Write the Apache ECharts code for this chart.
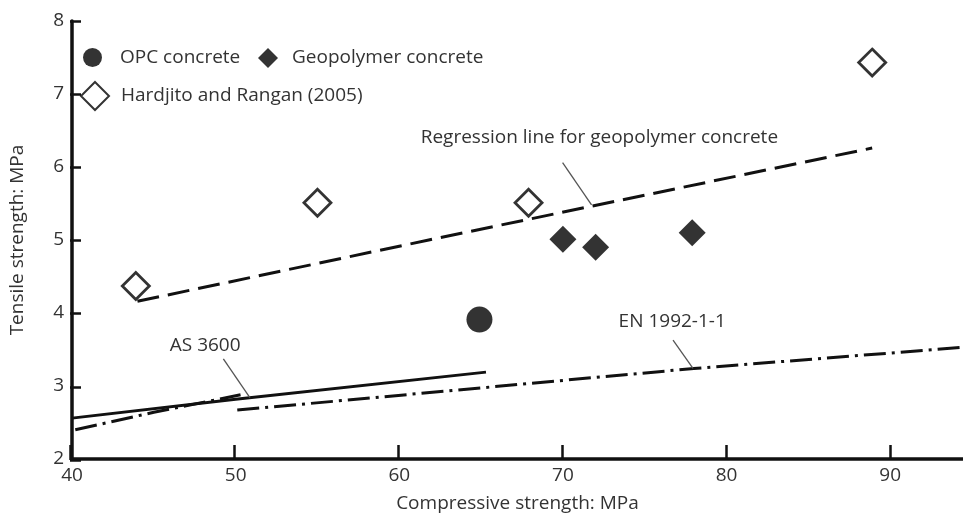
<!DOCTYPE html>
<html>
<head>
<meta charset="utf-8">
<script src="https://cdn.jsdelivr.net/npm/echarts@6/dist/echarts.min.js"></script>
<style>
html,body{margin:0;padding:0;background:#fff;}
#wrap{position:relative;width:963px;height:518px;}
#chart,#ticks{position:absolute;left:0;top:0;width:963px;height:518px;}
#ticks{pointer-events:none;z-index:2;}
#err{position:absolute;left:300px;top:420px;color:red;font:12px sans-serif;z-index:5;width:600px;}
</style>
</head>
<body>
<div id="wrap"><div id="chart"></div><div id="ticks"></div><div id="err"></div></div>
<script>
var xTickValues = [40, 50, 60, 70, 80, 90];
var yTickValues = [2, 3, 4, 5, 6, 7, 8];
var opcConcrete = [[64.9, 3.91]];
var geopolymerConcrete = [[70.0, 5.01], [72.0, 4.90], [77.9, 5.10]];
var hardjitoRangan = [[43.9, 4.37], [55.0, 5.51], [67.9, 5.51], [88.9, 7.43]];
var regressionLine = [[44.0, 4.16], [61.8, 5.00], [88.9, 6.26]];
var as3600Line = [[40.0, 2.56], [50.0, 2.82], [65.3, 3.19]];
var en1992LowLine = [[40.2, 2.40], [45.0, 2.64], [50.3, 2.88]];
var en1992HighLine = [[50.1, 2.67], [78.0, 3.24], [94.45, 3.53]];
var annotationNames = ['Regression line for geopolymer concrete', 'AS 3600', 'EN 1992-1-1'];
var annotationTextAt = [[72.26, 6.40], [48.17, 3.55], [76.71, 3.87]];
var annotationLeaders = [
  [[69.98, 6.06], [71.75, 5.48]],
  [[49.25, 3.37], [50.87, 2.84]],
  [[76.73, 3.63], [77.95, 3.24]]
];
var FONT = '"Open Sans", "Noto Sans", sans-serif';
var TXT = '#333';
var FS = 19;
var X_MAX = 94.45;
var errs = [];
window.onerror = function (m) { errs.push('onerror: ' + m); document.getElementById('err').textContent = errs.join(' | '); };

// overlay first
try {
  var xMin = xTickValues[0], xLast = xTickValues[xTickValues.length - 1];
  var plotW = 963 - 70;
  var overlayRight = plotW * (X_MAX - xLast) / (X_MAX - xMin);
  var ticks = echarts.init(document.getElementById('ticks'));
  ticks.setOption({
    animation: false,
    backgroundColor: 'transparent',
    grid: {left: 70, right: overlayRight, top: 21, bottom: 58},
    xAxis: {type: 'value', min: xMin, max: xLast, interval: 10,
      axisLine: {show: false, onZero: false},
      axisTick: {show: true, inside: true, length: 15, lineStyle: {color: '#111', width: 2.5}},
      axisLabel: {show: false}, splitLine: {show: false}},
    yAxis: {type: 'value', min: yTickValues[0], max: yTickValues[yTickValues.length - 1], interval: 1,
      axisLine: {show: false, onZero: false},
      axisTick: {show: true, inside: true, length: 11, lineStyle: {color: '#111', width: 2.5}},
      axisLabel: {show: false}, splitLine: {show: false}},
    series: [{type: 'line', data: [], silent: true}]
  });
} catch (e) { errs.push('overlay: ' + e.message); }

var chart = echarts.init(document.getElementById('chart'));
var series = [];
function lineSeries(name, data, type, width) {
  return {name: name, type: 'line', data: data, symbol: 'none', silent: true, z: 2,
    lineStyle: {color: '#111', width: width, type: type}};
}
series.push(lineSeries('Regression', regressionLine, [22, 9], 3));
series.push(lineSeries('AS 3600 line', as3600Line, 'solid', 3));
series.push(lineSeries('EN low', en1992LowLine, [22, 6, 3, 6], 3));
series.push(lineSeries('EN high', en1992HighLine, [22, 6, 3, 6], 3));
annotationLeaders.forEach(function (seg, i) {
  series.push({name: 'leader' + i, type: 'line', data: seg, symbol: 'none', silent: true, z: 3,
    lineStyle: {color: '#555', width: 1.3}});
});
series.push({
  name: 'annotations', type: 'scatter', symbolSize: 1, silent: true, z: 4,
  itemStyle: {color: '#fff', opacity: 0},
  data: annotationTextAt.map(function (p, i) { return {value: p, name: annotationNames[i]}; }),
  label: {show: true, position: [0, 0], align: 'center', verticalAlign: 'middle', formatter: '{b}',
    color: TXT, opacity: 1, fontSize: FS, fontFamily: FONT}
});
series.push({name: 'OPC concrete', type: 'scatter', data: opcConcrete, symbol: 'circle', symbolSize: 26, z: 5, itemStyle: {color: '#000'}});
series.push({name: 'Geopolymer concrete', type: 'scatter', data: geopolymerConcrete, symbol: 'diamond', symbolSize: 27, z: 5, itemStyle: {color: '#000'}});
series.push({name: 'Hardjito and Rangan (2005)', type: 'scatter', data: hardjitoRangan, symbol: 'diamond', symbolSize: 27, z: 5,
  itemStyle: {color: '#fff', borderColor: '#000', borderWidth: 2.8}});
function legendOf(name, left, top, w, h, pad) {
  return {data: [name], left: left, top: top, padding: 0, itemWidth: w, itemHeight: h,
    orient: 'horizontal', selectedMode: false,
    textStyle: {color: TXT, fontSize: FS, fontFamily: FONT, padding: [0, 0, 0, pad]}};
}
try {
  chart.setOption({
    animation: false,
    grid: {left: 70, right: 0, top: 21, bottom: 58},
    legend: [legendOf('OPC concrete', 83, 48, 19, 19, 13), legendOf('Geopolymer concrete', 258, 48, 20, 20, 9),
      legendOf('Hardjito and Rangan (2005)', 80, 81, 28, 28, 7)],
    xAxis: {type: 'value', min: xTickValues[0], max: X_MAX, interval: 10,
      name: 'Compressive strength: MPa', nameLocation: 'middle', nameGap: 35,
      nameTextStyle: {color: TXT, fontSize: FS, fontFamily: FONT},
      axisLine: {show: true, onZero: false, lineStyle: {color: '#111', width: 3.5}},
      axisTick: {show: false},
      axisLabel: {color: TXT, fontSize: FS, fontFamily: FONT, margin: 7, showMaxLabel: false},
      splitLine: {show: false}},
    yAxis: {type: 'value', min: yTickValues[0], max: yTickValues[yTickValues.length - 1], interval: 1,
      name: 'Tensile strength: MPa', nameLocation: 'middle', nameGap: 45, nameRotate: 90,
      nameTextStyle: {color: TXT, fontSize: FS, fontFamily: FONT},
      axisLine: {show: true, onZero: false, lineStyle: {color: '#111', width: 3.5}},
      axisTick: {show: false},
      axisLabel: {color: TXT, fontSize: FS, fontFamily: FONT, margin: 8},
      splitLine: {show: false}},
    series: series
  });
} catch (e) { errs.push('main: ' + e.message); }
document.getElementById('err').textContent = errs.length ? errs.join(' | ') : '';
</script>
</body>
</html>
